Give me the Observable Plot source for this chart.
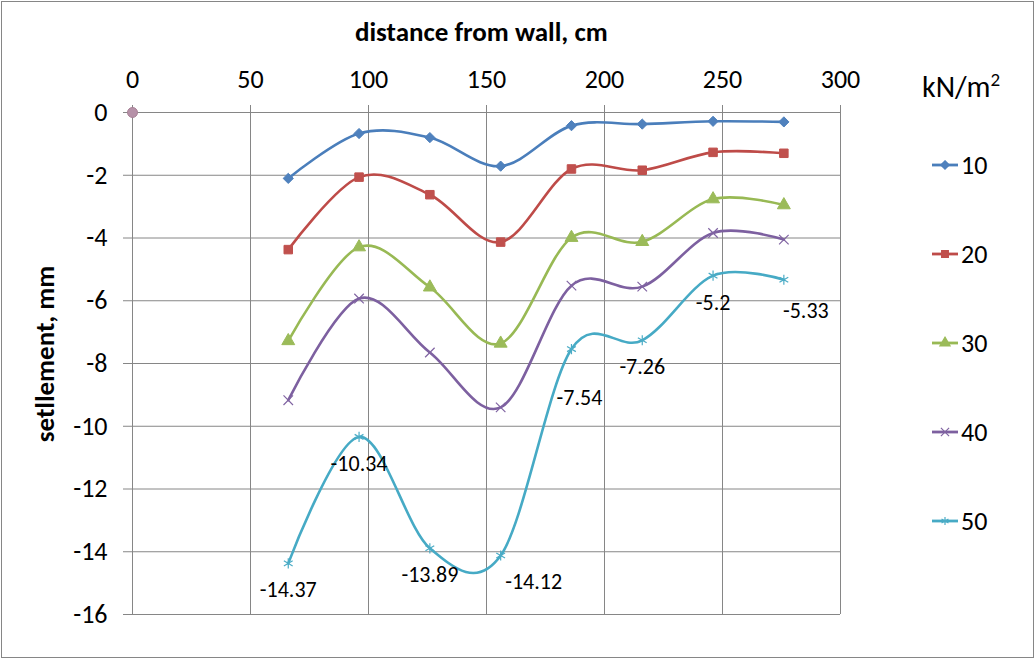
<!DOCTYPE html>
<html>
<head>
<meta charset="utf-8">
<script src="https://cdn.jsdelivr.net/npm/d3@7"></script>
<script src="https://cdn.jsdelivr.net/npm/@observablehq/plot@0.6"></script>
<style>
  html, body { margin: 0; padding: 0; background: #fff; }
  #wrap { position: relative; width: 1035px; height: 659px; font-family: Carlito, Calibri, Lato, sans-serif; color: #000; overflow: hidden; }
  #frame { position: absolute; left: 1px; top: 1px; width: 1031px; height: 655px; border: 1px solid #868686; pointer-events: none; }
  #title { position: absolute; left: 355px; top: 15px; white-space: nowrap; font-weight: bold; font-size: 27px; line-height: 34px; }
  #ylabel { position: absolute; left: 44px; top: 354px; transform: translate(-50%, -50%) rotate(-90deg); white-space: nowrap; font-weight: bold; font-size: 27px; }
  #unit { position: absolute; left: 922px; top: 68px; font-size: 30px; line-height: 38px; }
  #unit sup { font-size: 19px; vertical-align: 11px; line-height: 0; }
  .leg { position: absolute; left: 930px; height: 30px; display: flex; align-items: center; font-size: 26px; }
  .leg svg { margin-right: 1px; }
  #chart { position: absolute; left: 0; top: 0; }
</style>
</head>
<body>
<div id="wrap">
  <div id="chart"></div>
  <div id="title">distance from wall, cm</div>
  <div id="ylabel">setllement, mm</div>
  <div id="unit">kN/m<sup>2</sup></div>
  <div id="legend"></div>
  <div id="frame"></div>
</div>
<script>
// ---- data ----
const distances = [66, 96, 126, 156, 186, 216, 246, 276];
const loads = [10, 20, 30, 40, 50];
const s10 = [-2.10, -0.67, -0.80, -1.71, -0.42, -0.37, -0.28, -0.30];
const s20 = [-4.37, -2.06, -2.62, -4.13, -1.80, -1.84, -1.27, -1.30];
const s30 = [-7.28, -4.29, -5.57, -7.36, -3.99, -4.12, -2.76, -2.95];
const s40 = [-9.17, -5.93, -7.65, -9.40, -5.52, -5.55, -3.84, -4.05];
const s50 = [-14.37, -10.34, -13.89, -14.12, -7.54, -7.26, -5.2, -5.33];
const originX = [0];
const originY = [0];
const xTicks = [0, 50, 100, 150, 200, 250, 300];
const yTicks = [0, -2, -4, -6, -8, -10, -12, -14, -16];

// ---- styles ----
const lineColors = ["#4A7EBB", "#BE4B48", "#98B954", "#7D60A0", "#46AAC5"];
const markColors = ["#4F81BD", "#C0504D", "#9BBB59", "#8064A2", "#4BACC6"];
const symbols = ["diamond2", "square", "triangle", "times", "asterisk"];
const symbolR = [4.6, 4.8, 4.8, 4.4, 4.8];

const seriesValues = [s10, s20, s30, s40, s50];
const rows = [];
loads.forEach((load, i) => {
  distances.forEach((d, j) => rows.push({load, i, j, x: d, y: seriesValues[i][j]}));
});
const origin = originX.map((x, k) => ({x, y: originY[k]}));
const s50rows = rows.filter(r => r.load === 50);

const marks = [
  Plot.gridX(xTicks, {stroke: "#868686", strokeOpacity: 1, strokeWidth: 1}),
  Plot.gridY(yTicks, {stroke: "#868686", strokeOpacity: 1, strokeWidth: 1}),
  Plot.axisX({anchor: "top", ticks: xTicks, tickSize: 8, tickPadding: 17, fontSize: 26, stroke: "#868686", fill: "#000", tickFormat: d => String(d), label: null}),
  Plot.axisY({anchor: "left", ticks: yTicks, tickSize: 9, tickPadding: 16, fontSize: 26, stroke: "#868686", fill: "#000", tickFormat: d => String(d), label: null}),
];
loads.forEach((load, i) => {
  const data = rows.filter(r => r.load === load);
  marks.push(Plot.line(data, {x: "x", y: "y", stroke: lineColors[i], strokeWidth: 2.6, curve: "cardinal", tension: 0}));
});
loads.forEach((load, i) => {
  const data = rows.filter(r => r.load === load);
  const stroked = symbols[i] === "times" || symbols[i] === "asterisk";
  marks.push(Plot.dot(data, {
    x: "x", y: "y", symbol: () => symbols[i], r: symbolR[i],
    fill: stroked ? "none" : markColors[i],
    stroke: markColors[i], strokeWidth: stroked ? 1.2 : 1
  }));
});
marks.push(Plot.dot(origin, {x: "x", y: "y", r: 5, fill: "#B691A8", stroke: "#A88196", strokeWidth: 1}));

// data labels of the 50 kN/m² series
const fmt = d => String(d.y);
const special = {3: [33, 26], 4: [8, 49], 7: [22, 31]};
marks.push(Plot.text(s50rows.filter(r => !(r.j in special)), {x: "x", y: "y", text: fmt, dy: 27, fontSize: 22, fill: "#000"}));
Object.entries(special).forEach(([j, [dx, dy]]) => {
  marks.push(Plot.text(s50rows.filter(r => r.j === +j), {x: "x", y: "y", text: fmt, dx, dy, fontSize: 22, fill: "#000"}));
});

const chart = Plot.plot({
  width: 1035,
  height: 659,
  marginLeft: 132,
  marginRight: 195,
  marginTop: 112,
  marginBottom: 45,
  style: {fontFamily: "Carlito, Calibri, Lato, sans-serif", background: "transparent", overflow: "visible"},
  x: {domain: [0, 300]},
  y: {domain: [-16, 0]},
  marks
});
document.getElementById("chart").appendChild(chart);

// legend
const legend = document.getElementById("legend");
const legendY = [165, 254, 343, 432, 521];
const symMap = {diamond2: d3.symbolDiamond2, square: d3.symbolSquare, triangle: d3.symbolTriangle, times: d3.symbolTimes, asterisk: d3.symbolAsterisk};
loads.forEach((load, i) => {
  const div = document.createElement("div");
  div.className = "leg";
  div.style.top = (legendY[i] - 15) + "px";
  const svg = d3.create("svg").attr("width", 30).attr("height", 30);
  svg.append("line").attr("x1", 2).attr("x2", 28).attr("y1", 15).attr("y2", 15)
    .attr("stroke", lineColors[i]).attr("stroke-width", 2.8);
  const stroked = symbols[i] === "times" || symbols[i] === "asterisk";
  svg.append("path").attr("transform", "translate(15,15)")
    .attr("d", d3.symbol(symMap[symbols[i]], Math.PI * 3.8 * 3.8)())
    .attr("fill", stroked ? "none" : markColors[i]).attr("stroke", markColors[i]).attr("stroke-width", 1.2);
  div.appendChild(svg.node());
  const t = document.createElement("span");
  t.textContent = String(load);
  div.appendChild(t);
  legend.appendChild(div);
});
</script>
</body>
</html>
